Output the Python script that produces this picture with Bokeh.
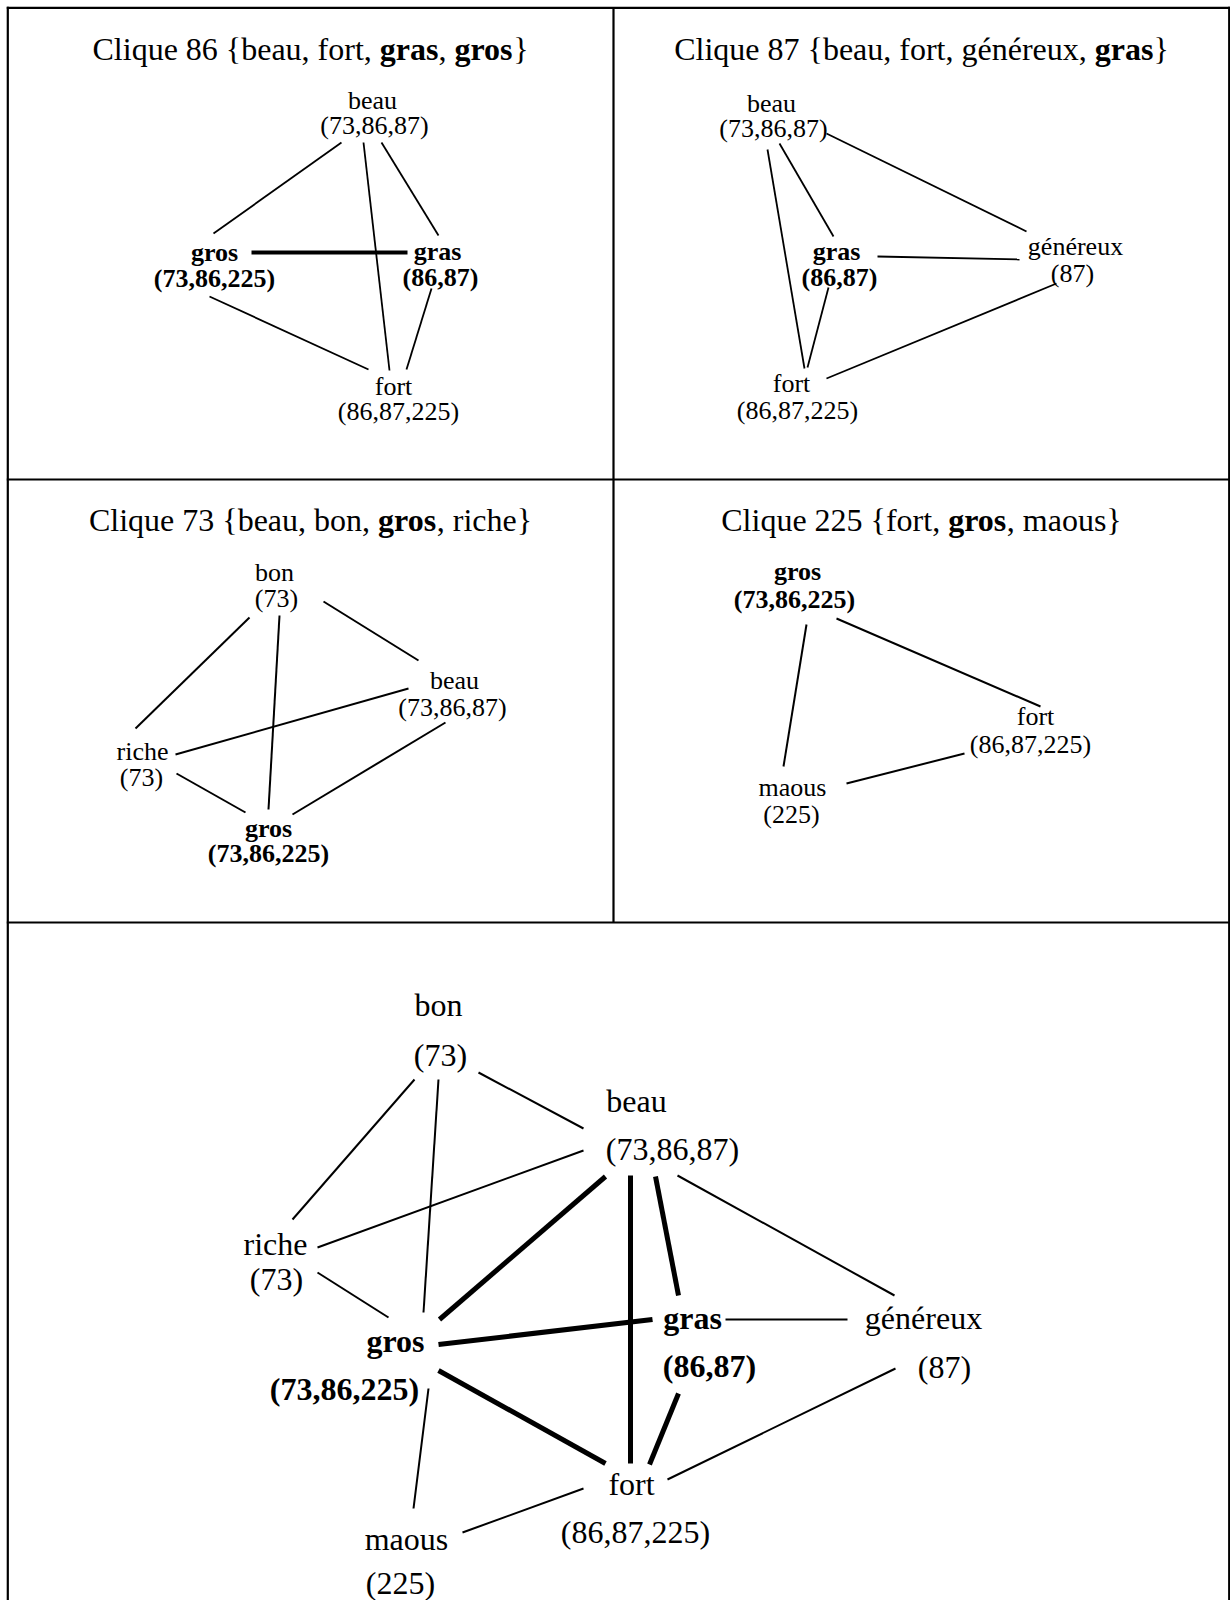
from itertools import combinations

from bokeh.plotting import figure
from bokeh.models import ColumnDataSource, Range1d
from bokeh.embed import file_html
from bokeh.resources import INLINE
from bokeh.core.properties import value, field

# ---------------- DATA ----------------
clique_ids = ["86", "87", "73", "225"]
clique_members = [
    ["beau", "fort", "gras", "gros"],
    ["beau", "fort", "généreux", "gras"],
    ["beau", "bon", "gros", "riche"],
    ["fort", "gros", "maous"],
]
bold_words = ["gras", "gros"]
# thick edges: in a single-clique panel, the edge joining the bold words;
# in the union graph, every edge of the clique holding both bold words
thick_single = [("gras", "gros")]
thick_union_clique = "86"

# ---------------- LAYOUT (screen pixels) ----------------
FONT = "Liberation Serif"
cell_x = [7.3, 613, 1228.7]
cell_y = [7.3, 479, 922]
panel_font = {"86": 26, "87": 26, "73": 26, "225": 26, "all": 32}
title_pos = {"86": (310, 48), "87": (921, 48), "73": (310, 519), "225": (921, 519)}

# word x, word baseline, cliques x, cliques baseline
node_pos = {
    "86": {"beau": (372, 100, 374, 125), "gros": (214, 252, 214, 278),
           "gras": (437, 251, 440, 277), "fort": (393, 386, 398, 411)},
    "87": {"beau": (771, 103, 773, 128), "gras": (836, 251, 839, 277),
           "généreux": (1075, 246, 1072, 273), "fort": (791, 383, 797, 410)},
    "73": {"bon": (274, 572, 276, 598), "beau": (454, 680, 452, 707),
           "riche": (142, 751, 141, 777), "gros": (268, 828, 268, 853)},
    "225": {"gros": (797, 571, 794, 599), "fort": (1035, 716, 1030, 744),
            "maous": (792, 787, 791, 814)},
    "all": {"bon": (438, 1004, 440, 1054), "beau": (636, 1100, 672, 1148),
            "riche": (275, 1243, 276, 1278), "gros": (395, 1340, 344, 1388),
            "gras": (692, 1317, 709, 1365), "généreux": (923, 1317, 944, 1366),
            "fort": (631, 1483, 635, 1531), "maous": (406, 1538, 400, 1582)},
}

edge_pos = {
    "86": [("beau", "gros", 341, 142, 213, 233), ("beau", "fort", 363, 142, 389, 370),
           ("beau", "gras", 381, 142, 438, 235), ("gros", "gras", 251, 252, 407, 252),
           ("gros", "fort", 209, 296, 368, 369), ("gras", "fort", 431, 288, 406, 369)],
    "87": [("beau", "fort", 767, 149, 804, 368), ("beau", "gras", 779, 143, 833, 236),
           ("beau", "généreux", 826, 133, 1026, 231), ("gras", "généreux", 877, 256, 1019, 259),
           ("gras", "fort", 828, 287, 807, 367), ("généreux", "fort", 1056, 283, 826, 378)],
    "73": [("bon", "riche", 249, 617, 135, 728), ("bon", "gros", 279, 615, 268, 809),
           ("bon", "beau", 323, 601, 418, 660), ("riche", "beau", 175, 754, 408, 688),
           ("riche", "gros", 176, 773, 245, 812), ("beau", "gros", 445, 722, 292, 814)],
    "225": [("gros", "maous", 806, 624, 783, 766), ("gros", "fort", 836, 618, 1040, 706),
            ("maous", "fort", 846, 783, 964, 753)],
    "all": [("bon", "riche", 414, 1079, 292, 1219), ("bon", "gros", 438, 1079, 423, 1312),
            ("bon", "beau", 478, 1072, 583, 1128), ("riche", "beau", 317, 1247, 583, 1150),
            ("riche", "gros", 317, 1272, 388, 1317), ("beau", "gros", 605, 1176, 439, 1319),
            ("gros", "gras", 438, 1344, 652, 1319), ("gros", "fort", 438, 1370, 605, 1463),
            ("gros", "maous", 428, 1388, 413, 1508), ("maous", "fort", 462, 1532, 583, 1488),
            ("beau", "fort", 630, 1175, 630, 1463), ("beau", "gras", 655, 1176, 678, 1295),
            ("beau", "généreux", 677, 1175, 894, 1295), ("gras", "généreux", 725, 1319, 847, 1319),
            ("gras", "fort", 678, 1393, 649, 1464), ("généreux", "fort", 895, 1368, 667, 1479)],
}
thin_w = {"86": 1.8, "87": 1.8, "73": 2, "225": 2, "all": 2}
thick_w = {"86": 4, "all": 5}

# Times / Liberation Serif advance widths (1/1000 em)
W_REG = {" ": 250, "{": 480, "}": 480, ",": 250, "(": 333, ")": 333, "C": 667,
         "l": 278, "i": 278, "q": 500, "u": 500, "e": 444, "b": 500, "a": 444,
         "f": 333, "o": 500, "r": 333, "t": 278, "n": 500, "h": 500, "c": 444,
         "m": 778, "s": 389, "g": 500, "x": 500, "é": 444, "p": 500}
for d in "0123456789":
    W_REG[d] = 500
W_BOLD = {"g": 500, "r": 444, "a": 500, "s": 389, "o": 500}


def text_width(s, bold, size):
    tab = W_BOLD if bold else W_REG
    return sum(tab.get(ch, W_REG.get(ch, 500)) for ch in s) * size / 1000.0


# ---------------- BUILD ----------------
word_cliques = {}
for cid, mem in zip(clique_ids, clique_members):
    for w in mem:
        word_cliques.setdefault(w, []).append(cid)

panels = list(zip(clique_ids, clique_members))
union_members = []
for mem in clique_members:
    for w in mem:
        if w not in union_members:
            union_members.append(w)
panels.append(("all", union_members))

union_edges = set()
for mem in clique_members:
    for a, b in combinations(mem, 2):
        union_edges.add(frozenset((a, b)))
thick_union = {frozenset(e) for e in combinations(
    clique_members[clique_ids.index(thick_union_clique)], 2)}
thick_single_set = {frozenset(e) for e in thick_single}

lbl = dict(x=[], y=[], text=[], size=[], style=[])
seg = dict(x0=[], y0=[], x1=[], y1=[], lw=[])

for pid, mem in panels:
    fs = panel_font[pid]
    for w in mem:
        xw, yw, xp, yp = node_pos[pid][w]
        style = "bold" if w in bold_words else "normal"
        nums = "(" + ",".join(sorted(word_cliques[w], key=int)) + ")"
        lbl["x"] += [xw, xp]
        lbl["y"] += [yw, yp]
        lbl["text"] += [w, nums]
        lbl["size"] += [f"{fs}px", f"{fs}px"]
        lbl["style"] += [style, style]
    lookup = {frozenset((a, b)): (x0, y0, x1, y1) for a, b, x0, y0, x1, y1 in edge_pos[pid]}
    pairs = union_edges if pid == "all" else {frozenset(e) for e in combinations(mem, 2)}
    thick = thick_union if pid == "all" else thick_single_set
    for e in pairs:
        x0, y0, x1, y1 = lookup[e]
        seg["x0"].append(x0); seg["y0"].append(y0)
        seg["x1"].append(x1); seg["y1"].append(y1)
        seg["lw"].append(thick_w.get(pid, 4) if e in thick else thin_w[pid])

# titles with mixed bold runs
tt = dict(x=[], y=[], text=[], style=[])
TITLE_FS = 32
for cid, mem in zip(clique_ids, clique_members):
    runs = []
    cur = f"Clique {cid} {{"
    for i, w in enumerate(mem):
        if i > 0:
            cur += ", "
        if w in bold_words:
            runs.append((cur, False))
            runs.append((w, True))
            cur = ""
        else:
            cur += w
    cur += "}"
    runs.append((cur, False))
    total = sum(text_width(s, b, TITLE_FS) for s, b in runs)
    cx, by = title_pos[cid]
    xx = cx - total / 2
    for s, b in runs:
        if s:
            tt["x"].append(xx); tt["y"].append(by)
            tt["text"].append(s); tt["style"].append("bold" if b else "normal")
        xx += text_width(s, b, TITLE_FS)

p = figure(width=1230, height=1600, x_range=Range1d(0, 1230), y_range=Range1d(1600, 0),
           output_backend="svg", toolbar_location=None, min_border=0,
           x_axis_type=None, y_axis_type=None)
p.grid.visible = False
p.outline_line_color = None
p.background_fill_color = "white"
p.border_fill_color = "white"

# table rules
bx0 = [cell_x[0], cell_x[2], cell_x[1], cell_x[0] - 1, cell_x[0] - 1, cell_x[0] - 1]
by0 = [cell_y[0] - 1, cell_y[0] - 1, cell_y[0], cell_y[0], cell_y[1], cell_y[2]]
bx1 = [cell_x[0], cell_x[2], cell_x[1], cell_x[2] + 1, cell_x[2] + 1, cell_x[2] + 1]
by1 = [1600, 1600, cell_y[2], cell_y[0], cell_y[1], cell_y[2]]
p.segment(bx0, by0, bx1, by1, line_width=2.2, line_color="black")

p.segment("x0", "y0", "x1", "y1", source=ColumnDataSource(seg),
          line_width="lw", line_color="black")

p.text(x="x", y="y", text="text", source=ColumnDataSource(lbl),
       text_font=value(FONT), text_font_size=field("size"), text_font_style=field("style"),
       text_align="center", text_baseline="alphabetic", text_color="black")

p.text(x="x", y="y", text="text", source=ColumnDataSource(tt),
       text_font=value(FONT), text_font_size=f"{TITLE_FS}px", text_font_style=field("style"),
       text_align="left", text_baseline="alphabetic", text_color="black")

open("out.html", "w").write(file_html(p, INLINE))
